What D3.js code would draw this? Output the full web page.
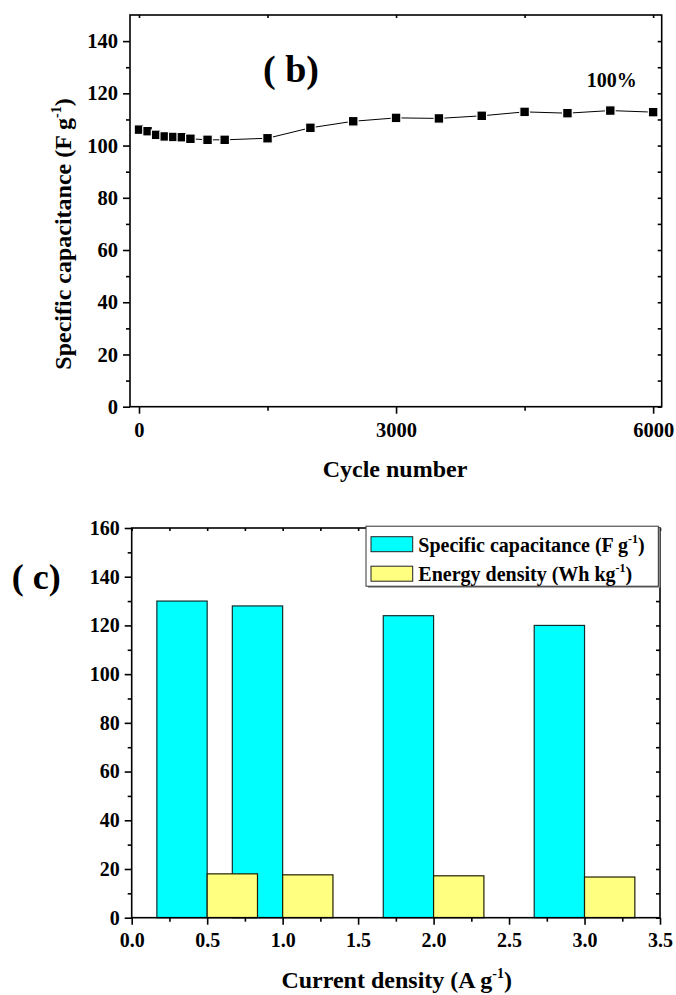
<!DOCTYPE html>
<html>
<head>
<meta charset="utf-8">
<script src="https://cdn.jsdelivr.net/npm/d3@7"></script>
<style>
  html, body { margin: 0; padding: 0; background: #fff; }
  svg { display: block; }
  text { font-family: "Liberation Serif", "Times New Roman", serif; font-weight: bold; fill: #000; }
</style>
</head>
<body>
<svg id="chart" width="676" height="995"></svg>
<script>
// ---------- data ----------
const cycles = [0, 100, 200, 300, 400, 500, 600, 800, 1000, 1500, 2000, 2500, 3000, 3500, 4000, 4500, 5000, 5500, 6000];
const cycleCapacitance = [106.1, 105.5, 104.1, 103.5, 103.3, 103.2, 102.6, 102.2, 102.2, 102.8, 106.8, 109.3, 110.6, 110.4, 111.4, 112.9, 112.4, 113.4, 112.8];
const cycleTicks = [0, 3000, 6000];
const capTicksB = [0, 20, 40, 60, 80, 100, 120, 140];

const currentDensity = [0.5, 1.0, 2.0, 3.0];
const specificCapacitance = [130, 128, 124, 120];
const energyDensity = [18.0, 17.6, 17.2, 16.7];
const currentTicks = [0, 0.5, 1.0, 1.5, 2.0, 2.5, 3.0, 3.5];
const capTicksC = [0, 20, 40, 60, 80, 100, 120, 140, 160];
const seriesNames = ["Specific capacitance (F g", "Energy density (Wh kg"];

// ---------- setup ----------
const svg = d3.select("#chart");
const axisW = 1.6;

function drawFrame(g, x, y, opts) {
  const [x0, x1] = x.range();
  const [y0, y1] = y.range(); // y0 bottom, y1 top
  g.append("g").attr("transform", `translate(0,${y0})`)
    .call(d3.axisBottom(x).tickValues(opts.xMajor).tickSize(7).tickSizeOuter(0).tickFormat(opts.xFmt).tickPadding(opts.xPad));
  g.append("g").attr("transform", `translate(0,${y0})`)
    .call(d3.axisBottom(x).tickValues(opts.xMinor).tickSize(4).tickSizeOuter(0).tickFormat(""));
  g.append("g").attr("transform", `translate(${x0},0)`)
    .call(d3.axisLeft(y).tickValues(opts.yMajor).tickSize(7).tickSizeOuter(0).tickPadding(5));
  g.append("g").attr("transform", `translate(${x0},0)`)
    .call(d3.axisLeft(y).tickValues(opts.yMinor).tickSize(4).tickSizeOuter(0).tickFormat(""));
  g.append("g").attr("transform", `translate(0,${y1})`)
    .call(d3.axisBottom(x).tickValues(opts.xMajor.concat(opts.xMinor)).tickSize(3).tickSizeOuter(0).tickFormat(""));
  g.append("g").attr("transform", `translate(${x1},0)`)
    .call(d3.axisLeft(y).tickValues(opts.yMajor.concat(opts.yMinor)).tickSize(4).tickSizeOuter(0).tickFormat(""));
  g.selectAll(".domain").remove();
  g.selectAll(".tick line").attr("stroke", "#000").attr("stroke-width", axisW);
  g.selectAll(".tick text").attr("font-size", opts.fs).attr("font-family", "Liberation Serif, Times New Roman, serif").attr("font-weight", "bold").attr("fill", "#000");
  g.append("rect").attr("x", x0).attr("y", y1).attr("width", x1 - x0).attr("height", y0 - y1)
    .attr("fill", "none").attr("stroke", "#000").attr("stroke-width", axisW);
}

// ---------- chart (b) ----------
const xb = d3.scaleLinear().domain([-105, 6100]).range([130, 661.7]);
const yb = d3.scaleLinear().domain([0, 150]).range([406.7, 15]);
const gb = svg.append("g");

drawFrame(gb, xb, yb, {
  xMajor: cycleTicks, xMinor: [1500, 4500], xFmt: d3.format("d"), xPad: 8.5,
  yMajor: capTicksB, yMinor: [10, 30, 50, 70, 90, 110, 130], fs: 20.5
});

const ptsB = cycles.map((c, i) => ({ x: c, y: cycleCapacitance[i] }));
gb.append("path").datum(ptsB)
  .attr("fill", "none").attr("stroke", "#000").attr("stroke-width", 1)
  .attr("d", d3.line().x(d => xb(d.x)).y(d => yb(d.y)));
const ms = 9.6;
gb.selectAll("rect.pt").data(ptsB).join("rect").attr("class", "pt")
  .attr("x", d => xb(d.x) - ms / 2).attr("y", d => yb(d.y) - ms / 2)
  .attr("width", ms).attr("height", ms)
  .attr("fill", "#000").attr("stroke", "#fff").attr("stroke-width", 1.2);

gb.append("text").attr("x", 263).attr("y", 82).attr("font-size", 38).text("( b)");
gb.append("text").attr("x", 586.7).attr("y", 87.3).attr("font-size", 20).text("100%");

gb.append("text").attr("x", 395).attr("y", 476.5).attr("text-anchor", "middle").attr("font-size", 24).text("Cycle number");

const yt = gb.append("text").attr("transform", "translate(71,234) rotate(-90)").attr("text-anchor", "middle").attr("font-size", 24);
yt.append("tspan").text("Specific capacitance (F g");
yt.append("tspan").attr("font-size", 14).attr("dy", -10).text("-1");
yt.append("tspan").attr("dy", 10).text(")");

// ---------- chart (c) ----------
const xc = d3.scaleLinear().domain([0, 3.5]).range([131.7, 660]);
const yc = d3.scaleLinear().domain([0, 160]).range([917.7, 528]);
const gc = svg.append("g");
const barW = 1 / 3;

const rowsC = currentDensity.map((c, i) => ({ x: c, cap: specificCapacitance[i], en: energyDensity[i] }));
gc.selectAll("rect.cap").data(rowsC).join("rect").attr("class", "cap")
  .attr("x", d => xc(d.x - barW)).attr("y", d => yc(d.cap))
  .attr("width", d => xc(d.x) - xc(d.x - barW)).attr("height", d => yc(0) - yc(d.cap))
  .attr("fill", "#00ffff").attr("stroke", "#103030").attr("stroke-width", 1.2);
gc.selectAll("rect.en").data(rowsC).join("rect").attr("class", "en")
  .attr("x", d => xc(d.x)).attr("y", d => yc(d.en))
  .attr("width", d => xc(d.x + barW) - xc(d.x)).attr("height", d => yc(0) - yc(d.en))
  .attr("fill", "#ffff80").attr("stroke", "#202000").attr("stroke-width", 1.2);

drawFrame(gc, xc, yc, {
  xMajor: currentTicks, xMinor: [0.25, 0.75, 1.25, 1.75, 2.25, 2.75, 3.25], xFmt: d3.format(".1f"), xPad: 8,
  yMajor: capTicksC, yMinor: [10, 30, 50, 70, 90, 110, 130, 150], fs: 20
});

// legend
const lg = gc.append("g");
lg.append("rect").attr("x", 368).attr("y", 527.7).attr("width", 292.3).attr("height", 60).attr("fill", "#888");
lg.append("rect").attr("x", 366).attr("y", 526.2).attr("width", 292.3).attr("height", 60)
  .attr("fill", "#fff").attr("stroke", "#333").attr("stroke-width", 1);
const swCol = ["#00ffff", "#ffff80"];
seriesNames.forEach((nm, i) => {
  const yy = 536.7 + i * 29.5;
  lg.append("rect").attr("x", 371).attr("y", yy).attr("width", 41.7).attr("height", 15)
    .attr("fill", swCol[i]).attr("stroke", "#222").attr("stroke-width", 1);
  const t = lg.append("text").attr("x", 418.3).attr("y", yy + 15).attr("font-size", 20);
  t.append("tspan").text(nm);
  t.append("tspan").attr("font-size", 12).attr("dy", -9).text("-1");
  t.append("tspan").attr("dy", 9).text(")");
});

gc.append("text").attr("x", 11.7).attr("y", 589).attr("font-size", 36).text("( c)");

const xt = gc.append("text").attr("x", 396.7).attr("y", 988).attr("text-anchor", "middle").attr("font-size", 24);
xt.append("tspan").text("Current density (A g");
xt.append("tspan").attr("font-size", 14).attr("dy", -10).text("-1");
xt.append("tspan").attr("dy", 10).text(")");
</script>
</body>
</html>
